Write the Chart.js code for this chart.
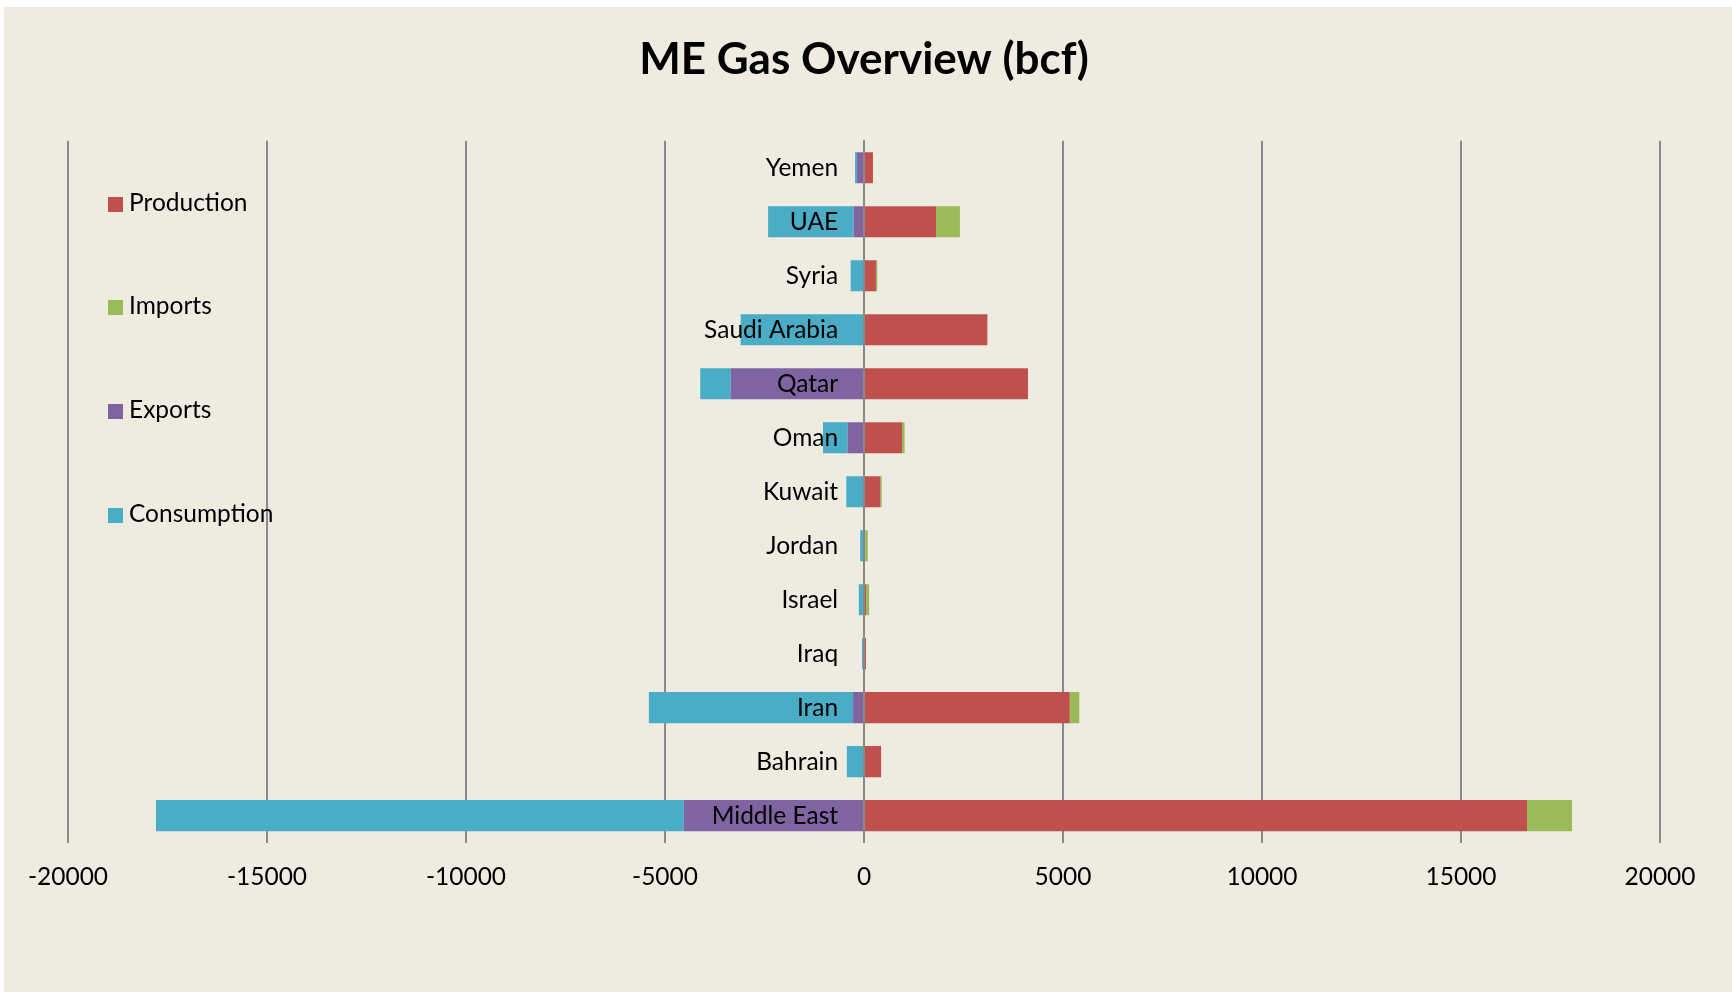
<!DOCTYPE html>
<html lang="en">
  <head>
    <meta charset="UTF-8" />
    <title>ME Gas Overview</title>
    <style>
      body {
        margin: 0;
        background: #ffffff;
        font-family: Lato, sans-serif;
      }
      .chart-box {
        position: absolute;
        left: 4px;
        top: 7px;
        width: 1728px;
        height: 985px;
        background: #eeece1;
      }
      .legend {
        position: absolute;
        left: 104px;
        top: 0;
      }
      .legend-item {
        position: absolute;
        white-space: nowrap;
        font-size: 24.5px;
        line-height: 28px;
        color: #000;
      }
      .legend-item span {
        display: inline-block;
        width: 15px;
        height: 15px;
        margin-right: 6px;
        vertical-align: -1px;
      }
    </style>
  </head>
  <body>
    <div class="chart-box">
      <canvas id="gasChart"></canvas>
      <div class="legend" id="legend"></div>
    </div>

    <script src="https://cdn.jsdelivr.net/npm/chart.js"></script>

    <script>
      // values, bcf (exports and consumption drawn to the left)
      const countries = ["Yemen", "UAE", "Syria", "Saudi Arabia", "Qatar", "Oman", "Kuwait", "Jordan", "Israel", "Iraq", "Iran", "Bahrain", "Middle East"];
      const production = [225, 1810, 300, 3100, 4120, 955, 410, 10, 50, 50, 5170, 430, 16660];
      const imports = [0, 600, 35, 0, 0, 65, 35, 85, 80, 0, 240, 0, 1130];
      const exports = [-175, -260, 0, 0, -3345, -410, 0, 0, 0, 0, -275, 0, -4525];
      const consumption = [-50, -2150, -335, -3100, -770, -620, -445, -95, -130, -50, -5130, -430, -13265];
      const xTicks = [-20000, -15000, -10000, -5000, 0, 5000, 10000, 15000, 20000];

      const seriesNames = ["Production", "Imports", "Exports", "Consumption"];
      const seriesColors = ["#c0504d", "#9bbb59", "#8064a2", "#4bacc6"];
      const seriesValues = [production, imports, exports, consumption];

      const datasets = seriesNames.map((name, i) => ({
        label: name,
        data: seriesValues[i],
        backgroundColor: seriesColors[i],
        borderWidth: 0,
        barPercentage: 0.575,
        categoryPercentage: 1,
      }));

      // legend sits inside the plot, like the original
      const legendEl = document.getElementById("legend");
      seriesNames.forEach((name, i) => {
        const item = document.createElement("div");
        item.className = "legend-item";
        item.style.top = 180.5 + i * 103.7 + "px";
        item.innerHTML = `<span style="background:${seriesColors[i]}"></span>${name}`;
        legendEl.appendChild(item);
      });

      const labelFont = { family: "Lato", size: 24.5 };
      const ctx = document.getElementById("gasChart");

      new Chart(ctx, {
        type: "bar",
        data: { labels: countries, datasets: datasets },
        options: {
          indexAxis: "y",
          responsive: true,
          maintainAspectRatio: false,
          animation: false,
          layout: {
            padding: { left: 64, right: 72, top: 26, bottom: 80 },
          },
          plugins: {
            legend: { display: false },
            tooltip: { enabled: false },
            title: {
              display: true,
              text: "ME Gas Overview (bcf)",
              color: "#000000",
              font: { family: "Lato", size: 44, weight: "bold", lineHeight: 1.2 },
              padding: { top: 0, bottom: 55 },
            },
          },
          scales: {
            x: {
              type: "linear",
              stacked: true,
              min: -20000,
              max: 20000,
              afterBuildTicks: (axis) => {
                axis.ticks = xTicks.map((v) => ({ value: v }));
              },
              grid: {
                color: "#898989",
                lineWidth: 2,
                drawTicks: false,
              },
              border: { display: false },
              ticks: {
                color: "#000000",
                padding: 20,
                maxRotation: 0,
                font: labelFont,
                callback: (v) => String(v),
              },
            },
            // value axis line at zero, drawn over the bars
            y: {
              stacked: true,
              position: { x: 0 },
              grid: { display: false },
              border: { display: true, color: "#898989", width: 2, z: 1 },
              ticks: { display: false },
            },
            // country names, just left of the zero line
            names: {
              type: "category",
              axis: "y",
              offset: true,
              position: { x: -650 },
              grid: { display: false },
              border: { display: false },
              ticks: {
                z: 1,
                color: "#000000",
                padding: 0,
                font: labelFont,
              },
            },
          },
        },
      });
    </script>
  </body>
</html>
